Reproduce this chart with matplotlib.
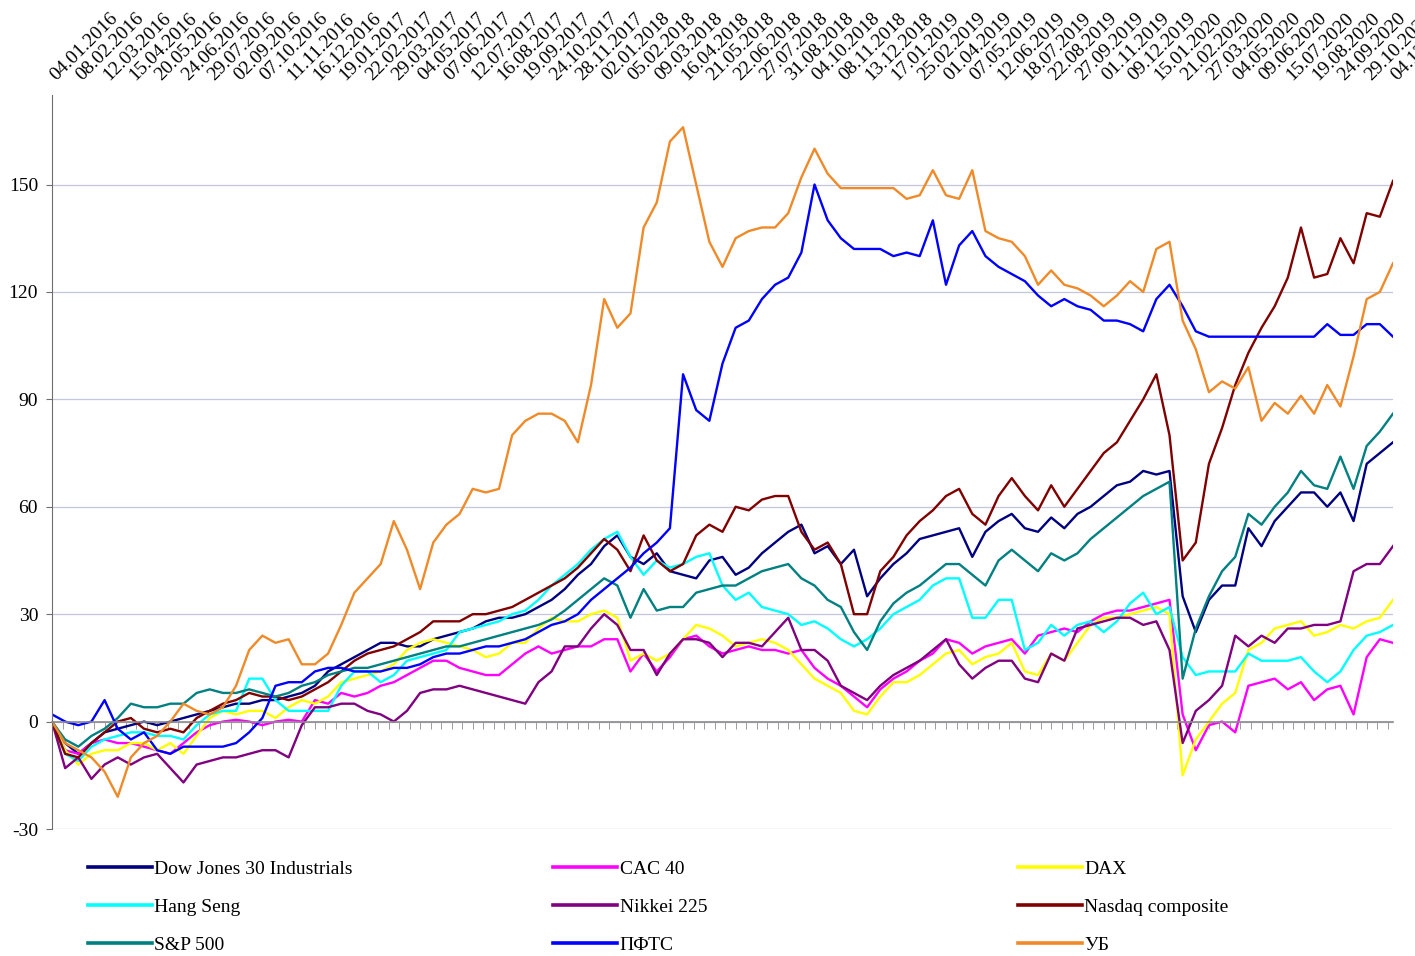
import numpy as np
import matplotlib.pyplot as plt
import matplotlib.transforms as mtransforms
from matplotlib.ticker import MultipleLocator, NullLocator

# category labels shown along the top (one every ~25 trading days)
dates = ["04.01.2016", "08.02.2016", "12.03.2016", "15.04.2016", "20.05.2016", "24.06.2016",
         "29.07.2016", "02.09.2016", "07.10.2016", "11.11.2016", "16.12.2016",
         "19.01.2017", "22.02.2017", "29.03.2017", "04.05.2017", "07.06.2017", "12.07.2017",
         "16.08.2017", "19.09.2017", "24.10.2017", "28.11.2017",
         "02.01.2018", "05.02.2018", "09.03.2018", "16.04.2018", "21.05.2018", "22.06.2018",
         "27.07.2018", "31.08.2018", "04.10.2018", "08.11.2018", "13.12.2018",
         "17.01.2019", "25.02.2019", "01.04.2019", "07.05.2019", "12.06.2019", "18.07.2019",
         "22.08.2019", "27.09.2019", "01.11.2019", "09.12.2019",
         "15.01.2020", "21.02.2020", "27.03.2020", "04.05.2020", "09.06.2020", "15.07.2020",
         "19.08.2020", "24.09.2020", "29.10.2020", "04.12.2020"]

# values read at every half label step (0, 0.5, ... 51)
dow = [0, -6, -9, -6, -3, -2, -1, 0, -1, 0,
       1, 2, 3, 4, 5, 5, 6, 6, 7, 8,
       10, 14, 16, 18, 20, 22, 22, 21, 21, 23,
       24, 25, 26, 28, 29, 29, 30, 32, 34, 37,
       41, 44, 49, 52, 46, 44, 47, 42, 41, 40,
       45, 46, 41, 43, 47, 50, 53, 55, 47, 49,
       44, 48, 35, 40, 44, 47, 51, 52, 53, 54,
       46, 53, 56, 58, 54, 53, 57, 54, 58, 60,
       63, 66, 67, 70, 69, 70, 35, 25, 34, 38,
       38, 54, 49, 56, 60, 64, 64, 60, 64, 56,
       72, 75, 78]
cac = [0, -8, -9, -6, -5, -6, -6, -7, -8, -9,
       -6, -3, -1, 0, 0.5, 0, -1, 0, 0.5, 0,
       6, 5, 8, 7, 8, 10, 11, 13, 15, 17,
       17, 15, 14, 13, 13, 16, 19, 21, 19, 20,
       21, 21, 23, 23, 14, 19, 14, 18, 23, 24,
       21, 19, 20, 21, 20, 20, 19, 20, 15, 12,
       10, 7, 4, 9, 12, 14, 17, 19, 23, 22,
       19, 21, 22, 23, 19, 24, 25, 26, 25, 28,
       30, 31, 31, 32, 33, 34, 2, -8, -1, 0,
       -3, 10, 11, 12, 9, 11, 6, 9, 10, 2,
       18, 23, 22]
dax = [0, -8, -12, -9, -8, -8, -6, -6, -8, -6,
       -9, -4, 1, 3, 2, 3, 3, 1, 4, 6,
       5, 7, 11, 12, 13, 14, 16, 20, 22, 23,
       22, 21, 20, 18, 19, 22, 22, 26, 29, 28,
       28, 30, 31, 29, 17, 19, 17, 19, 23, 27,
       26, 24, 21, 22, 23, 22, 20, 16, 12, 10,
       8, 3, 2, 7, 11, 11, 13, 16, 19, 20,
       16, 18, 19, 22, 14, 13, 19, 17, 22, 27,
       29, 29, 30, 31, 32, 30, -15, -5, 0, 5,
       8, 20, 22, 26, 27, 28, 24, 25, 27, 26,
       28, 29, 34]
hang_seng = [0, -9, -11, -7, -5, -4, -3, -3, -4, -4,
             -5, -1, 2, 3, 3, 12, 12, 6, 3, 3,
             3, 3, 10, 14, 14, 11, 13, 17, 18, 19,
             20, 25, 26, 27, 28, 30, 31, 34, 38, 41,
             44, 48, 51, 53, 46, 41, 45, 43, 44, 46,
             47, 38, 34, 36, 32, 31, 30, 27, 28, 26,
             23, 21, 23, 26, 30, 32, 34, 38, 40, 40,
             29, 29, 34, 34, 20, 22, 27, 24, 27, 28,
             25, 28, 33, 36, 30, 32, 18, 13, 14, 14,
             14, 19, 17, 17, 17, 18, 14, 11, 14, 20,
             24, 25, 27]
nikkei = [0, -13, -10, -16, -12, -10, -12, -10, -9, -13,
          -17, -12, -11, -10, -10, -9, -8, -8, -10, -1,
          4, 4, 5, 5, 3, 2, 0, 3, 8, 9,
          9, 10, 9, 8, 7, 6, 5, 11, 14, 21,
          21, 26, 30, 27, 20, 20, 13, 19, 23, 23,
          22, 18, 22, 22, 21, 25, 29, 20, 20, 17,
          10, 8, 6, 10, 13, 15, 17, 20, 23, 16,
          12, 15, 17, 17, 12, 11, 19, 17, 26, 27,
          28, 29, 29, 27, 28, 20, -6, 3, 6, 10,
          24, 21, 24, 22, 26, 26, 27, 27, 28, 42,
          44, 44, 49]
nasdaq = [0, -9, -10, -6, -3, 0, 1, -2, -3, -2,
          -3, 1, 3, 5, 6, 8, 7, 7, 6, 7,
          9, 11, 14, 17, 19, 20, 21, 23, 25, 28,
          28, 28, 30, 30, 31, 32, 34, 36, 38, 40,
          43, 47, 51, 48, 42, 52, 45, 42, 44, 52,
          55, 53, 60, 59, 62, 63, 63, 53, 48, 50,
          44, 30, 30, 42, 46, 52, 56, 59, 63, 65,
          58, 55, 63, 68, 63, 59, 66, 60, 65, 70,
          75, 78, 84, 90, 97, 80, 45, 50, 72, 82,
          94, 103, 110, 116, 124, 138, 124, 125, 135, 128,
          142, 141, 151]
sp500 = [0, -5, -7, -4, -2, 1, 5, 4, 4, 5,
         5, 8, 9, 8, 8, 9, 8, 7, 8, 10,
         11, 13, 14, 15, 15, 16, 17, 18, 19, 20,
         21, 21, 22, 23, 24, 25, 26, 27, 28.5, 31,
         34, 37, 40, 38, 29, 37, 31, 32, 32, 36,
         37, 38, 38, 40, 42, 43, 44, 40, 38, 34,
         32, 25, 20, 28, 33, 36, 38, 41, 44, 44,
         41, 38, 45, 48, 45, 42, 47, 45, 47, 51,
         54, 57, 60, 63, 65, 67, 12, 26, 35, 42,
         46, 58, 55, 60, 64, 70, 66, 65, 74, 65,
         77, 81, 86]
pfts = [2, 0, -1, 0, 6, -2, -5, -3, -8, -9,
        -7, -7, -7, -7, -6, -3, 1, 10, 11, 11,
        14, 15, 15, 14, 14, 14, 15, 15, 16, 18,
        19, 19, 20, 21, 21, 22, 23, 25, 27, 28,
        30, 34, 37, 40, 43, 47, 50, 54, 97, 87,
        84, 100, 110, 112, 118, 122, 124, 131, 150, 140,
        135, 132, 132, 132, 130, 131, 130, 140, 122, 133,
        137, 130, 127, 125, 123, 119, 116, 118, 116, 115,
        112, 112, 111, 109, 118, 122, 116, 109, 107.5, 107.5,
        107.5, 107.5, 107.5, 107.5, 107.5, 107.5, 107.5, 111, 108, 108,
        111, 111, 107.5]
ub = [0, -6, -8, -10, -14, -21, -10, -6, -4, 0,
      5, 3, 2, 4, 10, 20, 24, 22, 23, 16,
      16, 19, 27, 36, 40, 44, 56, 48, 37, 50,
      55, 58, 65, 64, 65, 80, 84, 86, 86, 84,
      78, 94, 118, 110, 114, 138, 145, 162, 166, 150,
      134, 127, 135, 137, 138, 138, 142, 152, 160, 153,
      149, 149, 149, 149, 149, 146, 147, 154, 147, 146,
      154, 137, 135, 134, 130, 122, 126, 122, 121, 119,
      116, 119, 123, 120, 132, 134, 112, 104, 92, 95,
      93, 99, 84, 89, 86, 91, 86, 94, 88, 102,
      118, 120, 128]

names = ["Dow Jones 30 Industrials", "CAC 40", "DAX", "Hang Seng", "Nikkei 225",
         "Nasdaq composite", "S&P 500", "ПФТС", "УБ"]
series = [dow, cac, dax, hang_seng, nikkei, nasdaq, sp500, pfts, ub]
colors = ["#000080", "#ff00ff", "#ffff00", "#00ffff", "#800080",
          "#800000", "#008080", "#0000ff", "#f08a28"]

t = np.arange(len(dow)) * 0.5

plt.rcParams['font.family'] = ['Liberation Serif', 'DejaVu Serif']
plt.rcParams['axes.unicode_minus'] = False

fig = plt.figure(figsize=(14.15, 9.56), dpi=100)
ax = fig.add_axes([52 / 1415, 1 - 829 / 956, (1393 - 52) / 1415, (829 - 95) / 956])

for name, vals, c in zip(names, series, colors):
    ax.plot(t, vals, color=c, lw=1.7, label=name)

ax.set_xlim(0, 51)
ax.set_ylim(-30, 175)
ax.set_yticks(np.arange(-30, 151, 30))
ax.grid(axis='y', color='#c3c7de', lw=0.9)
ax.set_axisbelow(True)

for s in ['top', 'right']:
    ax.spines[s].set_visible(False)
ax.spines['left'].set_color('#6e6e6e')
ax.spines['bottom'].set_position(('data', 0))
ax.spines['bottom'].set_color('#8c8c8c')
ax.spines['bottom'].set_linewidth(1.2)

ax.xaxis.set_major_locator(NullLocator())
ax.xaxis.set_minor_locator(MultipleLocator(0.4))
ax.tick_params(axis='x', which='minor', direction='out', length=5, color='#8c8c8c')
ax.tick_params(axis='y', length=4, color='#6e6e6e', labelsize=14, pad=6)

# date labels along the top
secax = ax.secondary_xaxis('top')
secax.set_xticks(np.arange(len(dates)))
secax.set_xticklabels(dates, rotation=45, ha='left', rotation_mode='anchor', fontsize=14)
secax.tick_params(length=0, pad=8)
secax.spines['top'].set_visible(False)
shift = mtransforms.ScaledTranslation(7 / 100, 0, fig.dpi_scale_trans)
for lab in secax.get_xticklabels():
    lab.set_transform(lab.get_transform() + shift)

# legend: three columns placed separately
cols = [[0, 3, 6], [1, 4, 7], [2, 5, 8]]
xs = [88 / 1415, 553 / 1415, 1018 / 1415]
for idx, x0 in zip(cols, xs):
    handles = [plt.Line2D([], [], color=colors[i], lw=2.6) for i in idx]
    fig.legend(handles, [names[i] for i in idx], loc='upper left',
               bbox_to_anchor=(x0, 1 - 860 / 956), frameon=False, fontsize=14,
               handlelength=3.3, handletextpad=0.12, labelspacing=1.05,
               borderpad=0, borderaxespad=0)

fig.savefig('out.png', dpi=100)
